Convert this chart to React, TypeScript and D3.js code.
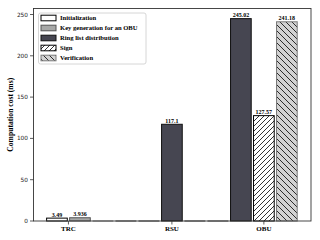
import React from 'react';
import * as d3 from 'd3';

const categories = ['TRC', 'RSU', 'OBU'];
const seriesNames = [
  'Initialization',
  'Key generation for an OBU',
  'Ring list distribution',
  'Sign',
  'Verification',
];
const initialization = [3.49, 0, 0];
const keyGeneration = [3.936, 0, 0];
const ringList = [0, 117.1, 245.02];
const signValues = [0, 0, 127.57];
const verification = [0, 0, 241.18];
const yTicks = [0, 50, 100, 150, 200, 250];

const seriesValues = [initialization, keyGeneration, ringList, signValues, verification];

type Style = { fill: string; stroke: string; hatch?: string };
const styles: Style[] = [
  { fill: '#ffffff', stroke: '#000000' },
  { fill: '#a7a8a7', stroke: '#555555' },
  { fill: '#464651', stroke: '#111111' },
  { fill: '#ffffff', stroke: '#000000', hatch: 'hatchSlash' },
  { fill: '#d2d2d2', stroke: '#7a7a7a', hatch: 'hatchBack' },
];

const W = 320;
const H = 240;
const left = 33.5;
const right = 311;
const top = 8.5;
const bottom = 221;
const serif = '"Liberation Serif", "Times New Roman", serif';
const sans = '"DejaVu Sans", sans-serif';

export default function App() {
  const x = d3.scaleLinear().domain([-3.02, 9.05]).range([left, right]);
  const maxV = d3.max(seriesValues.flat()) as number;
  const y = d3.scaleLinear().domain([0, maxV * 1.05]).range([bottom, top]);
  const bw = x(0.9) - x(0);

  const pos = (ci: number, si: number) => ci * 3 + (si - 2);

  const tickPos = categories.map((_, ci) => {
    const ps = seriesValues
      .map((vals, si) => (vals[ci] > 0 ? pos(ci, si) : null))
      .filter((p) => p !== null) as number[];
    return d3.mean(ps) as number;
  });

  const bars: React.ReactNode[] = [];
  const zeroLines: React.ReactNode[] = [];
  const valueLabels: React.ReactNode[] = [];
  seriesValues.forEach((vals, si) => {
    const st = styles[si];
    vals.forEach((v, ci) => {
      const cx = x(pos(ci, si));
      if (v <= 0) {
        zeroLines.push(
          <line key={`z${si}-${ci}`} x1={cx - bw / 2} x2={cx + bw / 2} y1={bottom} y2={bottom} stroke="#8a8a8a" strokeWidth={1.2} />
        );
        return;
      }
      const yt = y(v);
      bars.push(
        <g key={`b${si}-${ci}`}>
          <rect x={cx - bw / 2} y={yt} width={bw} height={bottom - yt} fill={st.fill} />
          {st.hatch && <rect x={cx - bw / 2} y={yt} width={bw} height={bottom - yt} fill={`url(#${st.hatch})`} />}
          <rect x={cx - bw / 2} y={yt} width={bw} height={bottom - yt} fill="none" stroke={st.stroke} strokeWidth={1} />
        </g>
      );
      valueLabels.push(
        <text key={`v${si}-${ci}`} x={cx} y={yt - 1.6} textAnchor="middle" fontFamily={serif} fontWeight="bold" fontSize={6} fill="#000">
          {String(v)}
        </text>
      );
    });
  });

  const legendX = 38.5;
  const legendY = 13;
  const rowH = 10;

  return (
    <div style={{ position: 'fixed', left: 0, top: 0, width: W, height: H, background: '#fff' }}>
      <svg width={W} height={H} style={{ display: 'block' }}>
        <defs>
          <pattern id="hatchSlash" patternUnits="userSpaceOnUse" width={5} height={5}>
            <path d="M-1,1 L1,-1 M0,5 L5,0 M4,6 L6,4" stroke="#000" strokeWidth={0.8} />
          </pattern>
          <pattern id="hatchBack" patternUnits="userSpaceOnUse" width={6} height={6}>
            <path d="M-1,5 L1,7 M0,0 L6,6 M5,-1 L7,1" stroke="#000" strokeWidth={0.8} />
          </pattern>
        </defs>
        <rect x={0} y={0} width={W} height={H} fill="#fff" />
        {zeroLines}
        {bars}
        {valueLabels}
        {/* frame */}
        <rect x={left} y={top} width={right - left} height={bottom - top} fill="none" stroke="#333" strokeWidth={0.9} />
        {/* y ticks */}
        {yTicks.map((t) => (
          <g key={`yt${t}`}>
            <line x1={left - 3.5} x2={left} y1={y(t)} y2={y(t)} stroke="#333" strokeWidth={0.8} />
            <text x={left - 5.5} y={y(t)} dy="0.35em" textAnchor="end" fontFamily={sans} fontSize={5.8} fill="#222">
              {t}
            </text>
          </g>
        ))}
        {/* x ticks */}
        {categories.map((c, ci) => (
          <g key={`xt${c}`}>
            <line x1={x(tickPos[ci])} x2={x(tickPos[ci])} y1={bottom} y2={bottom + 3.5} stroke="#333" strokeWidth={0.8} />
            <text x={x(tickPos[ci])} y={231} textAnchor="middle" fontFamily={serif} fontWeight="bold" fontSize={7} fill="#000">
              {c}
            </text>
          </g>
        ))}
        {/* y label */}
        <text
          transform={`translate(13, ${(top + bottom) / 2}) rotate(-90)`}
          textAnchor="middle"
          fontFamily={serif}
          fontWeight="bold"
          fontSize={7.6}
          fill="#000"
        >
          Computation cost (ms)
        </text>
        {/* legend */}
        <rect x={legendX} y={legendY} width={107.5} height={51} rx={2} fill="#fff" fillOpacity={0.8} stroke="#cccccc" strokeWidth={0.8} />
        {seriesNames.map((name, si) => {
          const st = styles[si];
          const cy = legendY + 5 + si * rowH;
          return (
            <g key={`lg${si}`}>
              <rect x={41} y={cy - 2.8} width={15} height={5.6} fill={st.fill} />
              {st.hatch && <rect x={41} y={cy - 2.8} width={15} height={5.6} fill={`url(#${st.hatch})`} />}
              <rect x={41} y={cy - 2.8} width={15} height={5.6} fill="none" stroke={st.stroke} strokeWidth={1} />
              <text x={60} y={cy} dy="0.35em" fontFamily={serif} fontWeight="bold" fontSize={6.6} fill="#000">
                {name}
              </text>
            </g>
          );
        })}
      </svg>
    </div>
  );
}
